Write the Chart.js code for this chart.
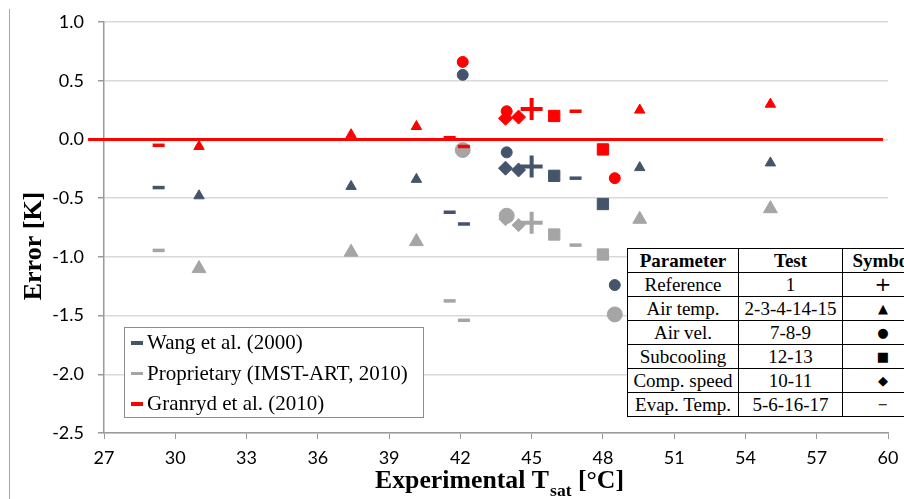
<!DOCTYPE html>
<html><head><meta charset="utf-8">
<script src="https://cdn.jsdelivr.net/npm/chart.js@4.4.1/dist/chart.umd.min.js"></script>
<style>
html,body{margin:0;padding:0;background:#fff;overflow:hidden;}
#wrap{position:relative;width:904px;height:499px;overflow:hidden;}
#legend{position:absolute;left:124px;top:327px;width:300px;height:91px;border:1.5px solid #8c8c8c;background:#fff;font-family:'Liberation Serif','Times New Roman',serif;font-size:21px;color:#000;box-sizing:border-box;padding-top:0;}
#legend .it{height:30.5px;line-height:29px;white-space:nowrap;position:relative;padding-left:22px;}
#legend .sw{position:absolute;left:6px;top:13px;width:12px;height:3.5px;}
#tbl{position:absolute;left:627px;top:248px;width:296px;table-layout:fixed;border-collapse:collapse;background:#fff;font-family:'Liberation Serif','Times New Roman',serif;font-size:19px;color:#000;}
#tbl td,#tbl th{border:1.5px solid #000;height:23px;padding:0;text-align:center;white-space:nowrap;line-height:23px;overflow:hidden;}
#tbl th{font-weight:bold;}
#tbl .sym{font-family:'DejaVu Sans',sans-serif;font-size:13px;}
#tbl .big{font-size:20px;}
</style>
</head><body>
<div id="wrap">
<canvas id="c" width="904" height="499"></canvas>
<div id="legend"></div>
<table id="tbl"></table>
</div>
<script>
// ---- data ----
const seriesNames = ['Wang et al. (2000)', 'Proprietary (IMST-ART, 2010)', 'Granryd et al. (2010)'];
const tsat     = [45.0, 31.0, 37.4, 40.15, 49.55, 55.05, 42.1, 43.95, 48.5, 45.95, 48.0, 43.9, 44.45, 29.3, 41.55, 42.15, 46.85];
const symbols  = ['ref','airT','airT','airT','airT','airT','airV','airV','airV','sub','sub','comp','comp','evap','evap','evap','evap'];
const wang     = [-0.23, -0.48, -0.40, -0.34, -0.24, -0.20, 0.55, -0.11, -1.24, -0.31, -0.55, -0.245, -0.26, -0.41, -0.62, -0.72, -0.33];
const propr    = [-0.71, -1.10, -0.96, -0.87, -0.68, -0.59, -0.09, -0.65, -1.49, -0.81, -0.98, -0.68, -0.73, -0.945, -1.375, -1.54, -0.90];
const granryd  = [0.26, -0.06, 0.04, 0.11, 0.25, 0.30, 0.66, 0.24, -0.33, 0.20, -0.085, 0.18, 0.19, -0.05, 0.015, -0.06, 0.24];
const xTicks   = [27, 30, 33, 36, 39, 42, 45, 48, 51, 54, 57, 60];
const yTicks   = [-2.5, -2.0, -1.5, -1.0, -0.5, 0.0, 0.5, 1.0];
const zeroLineX = [26.33, 59.79];
const tableHead = ['Parameter', 'Test', 'Symbol'];
const tableRows = [
  ['Reference', '1', '+'],
  ['Air temp.', '2-3-4-14-15', '\u25B2'],
  ['Air vel.', '7-8-9', '\u25CF'],
  ['Subcooling', '12-13', '\u25A0'],
  ['Comp. speed', '10-11', '\u25C6'],
  ['Evap. Temp.', '5-6-16-17', '\u2212']
];
// ---- styles ----
const colors = ['#44546A', '#A5A5A5', '#FF0000'];
const styleMap = {ref:'cross', airT:'triangle', airV:'circle', sub:'rect', comp:'rectRot', evap:'line'};
const radiusMap = [
  {ref:11, airT:6, airV:5.5, sub:8, comp:7, evap:6},
  {ref:11, airT:8, airV:7.5, sub:8, comp:6.5, evap:6},
  {ref:11, airT:6, airV:5.5, sub:8, comp:7, evap:6}
];
const bwMap = {ref:4, airT:1, airV:1, sub:1, comp:1, evap:3.5};

function mk(i, vals, order){
  return {
    label: seriesNames[i],
    data: tsat.map((x, k) => ({x: x, y: vals[k]})),
    backgroundColor: colors[i], borderColor: colors[i],
    pointStyle: c => styleMap[symbols[c.dataIndex]],
    pointRadius: c => radiusMap[i][symbols[c.dataIndex]],
    pointBorderWidth: c => bwMap[symbols[c.dataIndex]],
    showLine: false, order: order
  };
}

const titles = {
  id: 'titles',
  afterDraw(chart){
    const ctx = chart.ctx;
    ctx.save();
    ctx.strokeStyle = '#a6a6a6'; ctx.lineWidth = 1;
    ctx.beginPath(); ctx.moveTo(9.5, 9); ctx.lineTo(9.5, 499); ctx.stroke();
    ctx.fillStyle = '#000';
    ctx.font = 'bold 26px "Liberation Serif", "Times New Roman", serif';
    ctx.translate(41, 246); ctx.rotate(-Math.PI/2);
    ctx.textAlign = 'center'; ctx.textBaseline = 'alphabetic';
    ctx.fillText('Error [K]', 0, 0);
    ctx.restore();
    ctx.save();
    ctx.fillStyle = '#000'; ctx.textBaseline = 'alphabetic'; ctx.textAlign = 'left';
    const big = 'bold 25px "Liberation Serif", "Times New Roman", serif';
    const sm = 'bold 17px "Liberation Serif", "Times New Roman", serif';
    const a = 'Experimental T', b = 'sat', d = ' [\u00B0C]';
    ctx.font = big; const wa = ctx.measureText(a).width, wd = ctx.measureText(d).width;
    ctx.font = sm; const wb = ctx.measureText(b).width;
    const tot = wa + wb + wd, target = 248, f = target / tot;
    const ca = chart.chartArea;
    const cx = (ca.left + ca.right) / 2 + 3;
    ctx.translate(cx - target/2, 488); ctx.scale(f, 1);
    ctx.font = big; ctx.fillText(a, 0, 0);
    ctx.font = sm; ctx.fillText(b, wa + 1, 8);
    ctx.font = big; ctx.fillText(d, wa + wb + 1, 0);
    ctx.restore();
  }
};

new Chart(document.getElementById('c'), {
  type: 'scatter',
  data: {
    datasets: [
      {type:'line', label:'zero', data: zeroLineX.map(x => ({x:x, y:0})), borderColor:'#FF0000', borderWidth:3, pointRadius:0, clip:false, order:10},
      mk(1, propr, 3),
      mk(0, wang, 2),
      mk(2, granryd, 1)
    ]
  },
  options: {
    responsive: false, animation: false, events: [],
    layout: {padding: {left:0, top:22, right:16, bottom:0}},
    plugins: {legend: {display:false}, tooltip: {enabled:false}},
    scales: {
      x: {
        type:'linear', min:27, max:60,
        afterBuildTicks: s => { s.ticks = xTicks.map(v => ({value:v})); },
        afterFit: s => { s.height = 66; s.paddingLeft = 0; s.paddingRight = 0; },
        grid: {drawOnChartArea:false, drawTicks:true, tickLength:6, tickColor:'#9a9a9a', lineWidth:1},
        border: {display:true, color:'#9a9a9a', width:1.5},
        ticks: {font:{family:'Lato', size:18}, color:'#000', padding:8, maxRotation:0, autoSkip:false}
      },
      y: {
        type:'linear', min:-2.5, max:1.0,
        afterBuildTicks: s => { s.ticks = yTicks.map(v => ({value:v})); },
        afterFit: s => { s.width = 104; s.paddingTop = 0; s.paddingBottom = 0; },
        grid: {color:'#d9d9d9', lineWidth:1.5, drawTicks:true, tickLength:6, tickColor:'#9a9a9a'},
        border: {display:true, color:'#9a9a9a', width:1.5},
        ticks: {font:{family:'Lato', size:18}, color:'#000', padding:14, callback: v => v.toFixed(1)}
      }
    }
  },
  plugins: [titles]
});

const lg = document.getElementById('legend');
seriesNames.forEach((n, i) => {
  const d = document.createElement('div'); d.className = 'it';
  d.innerHTML = '<span class="sw" style="background:' + colors[i] + '"></span>' + n;
  lg.appendChild(d);
});
const tb = document.getElementById('tbl');
const widths = [111, 104, 81];
let h = '<colgroup>' + widths.map(w => '<col style="width:' + w + 'px">').join('') + '</colgroup>';
h += '<tr>' + tableHead.map(t => '<th>' + t + '</th>').join('') + '</tr>';
tableRows.forEach((r, k) => { h += '<tr><td>' + r[0] + '</td><td>' + r[1] + '</td><td class="sym' + (k === 0 ? ' big' : '') + '">' + r[2] + '</td></tr>'; });
tb.innerHTML = h;
</script>
</body></html>
